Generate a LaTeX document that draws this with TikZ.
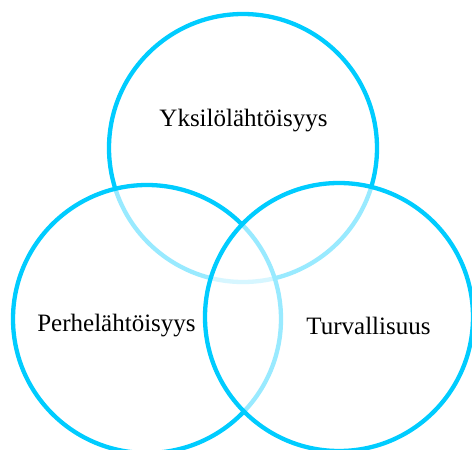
\documentclass[tikz,border=0pt]{standalone}
\usepackage{fontspec}
\setmainfont{Liberation Serif}
\definecolor{venn}{RGB}{0,204,255}
\begin{document}
\begin{tikzpicture}[x=1pt,y=-1pt,
  vcircle/.style={circle, draw=venn, line width=4.3pt, fill=white, fill opacity=0.6, draw opacity=1, inner sep=0pt, minimum size=268pt},
  vlabel/.style={font=\fontsize{25}{29}\selectfont, text=black, inner sep=0pt}]
\useasboundingbox (0,0) rectangle (472,450);
\node[vcircle] (top) at (243,148) {};
\node[vcircle] (left) at (147,319) {};
\node[vcircle] (right) at (339,317) {};
\node[vlabel] (ltop) at (243.5,121) {Yksilölähtöisyys};
\node[vlabel] (lleft) at (116.5,326) {Perhelähtöisyys};
\node[vlabel] (lright) at (368.5,326) {Turvallisuus};
\end{tikzpicture}
\end{document}
